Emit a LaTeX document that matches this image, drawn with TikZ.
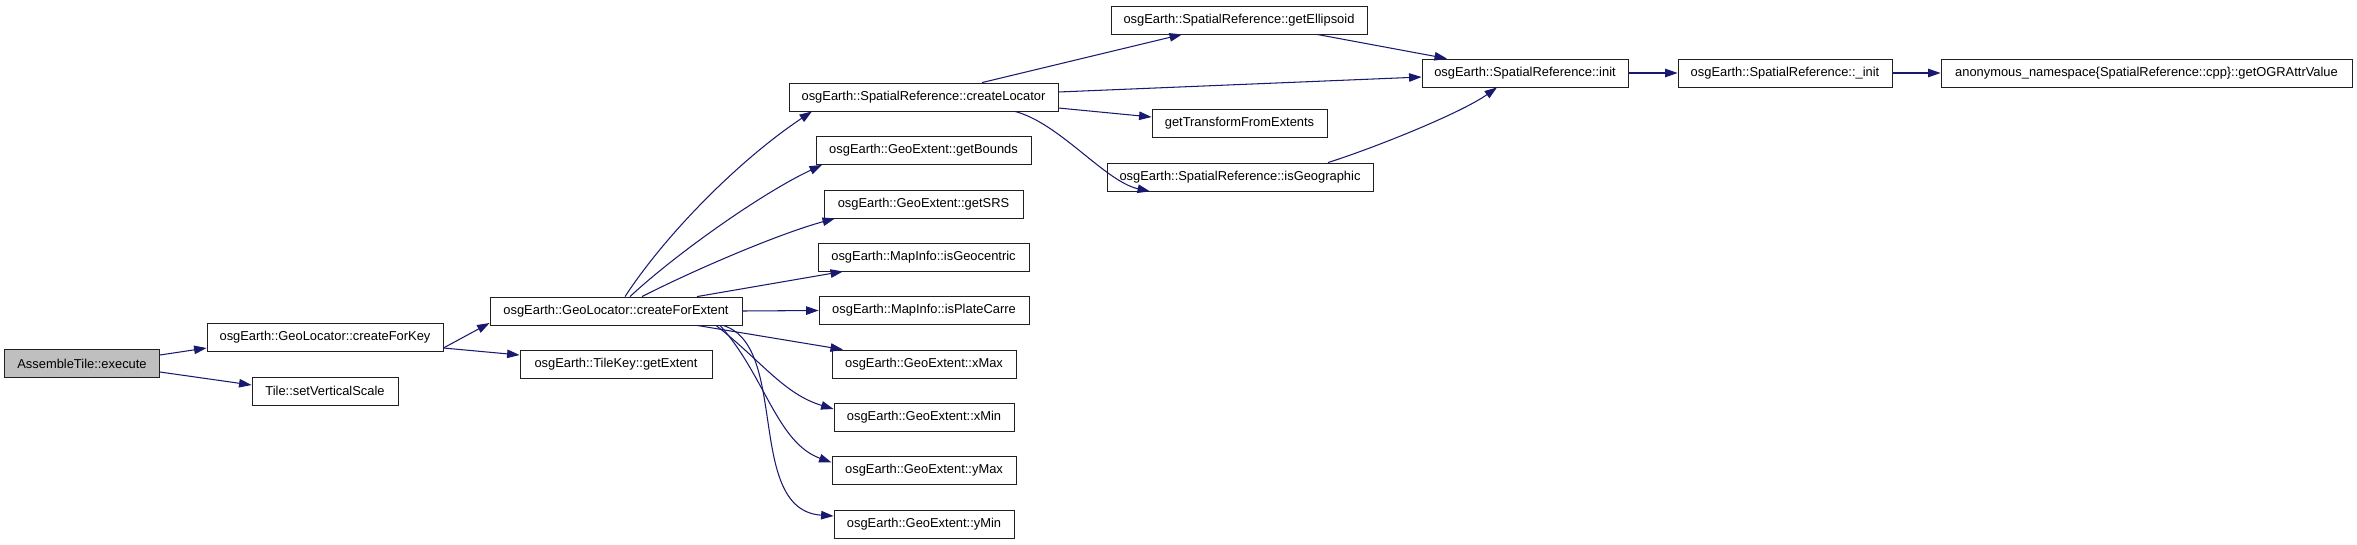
\documentclass[tikz,border=0pt]{standalone}
\usepackage{fontspec}
\setmainfont{Liberation Sans}
\usetikzlibrary{arrows.meta}
\definecolor{edgec}{HTML}{191970}
\definecolor{rootfill}{HTML}{BFBFBF}
\definecolor{boxline}{HTML}{202020}
\begin{document}
\begin{tikzpicture}[x=1pt,y=1pt,
  box/.style={draw=boxline, fill=white, line width=0.85pt, inner sep=0pt,
    minimum height=28pt, font=\fontsize{12.9}{15}\selectfont},
  rootbox/.style={box, fill=rootfill},
  call/.style={draw=edgec, line width=1.05pt,
    -{Triangle[length=12.5pt,width=8.5pt]}, fill=none}]
\fill[white] (0,0) rectangle (2357,-544);
\useasboundingbox (0,0) rectangle (2357,-544);
% nodes
\node[rootbox, minimum width=155pt] (exec) at (82,-363.5) {AssembleTile::execute};
\node[box, minimum width=236pt] (fk) at (325,-337) {osgEarth::GeoLocator::createForKey};
\node[box, minimum width=146pt] (svs) at (325,-391) {Tile::setVerticalScale};
\node[box, minimum width=252pt] (fe) at (616,-311) {osgEarth::GeoLocator::createForExtent};
\node[box, minimum width=192pt] (ge) at (616,-364) {osgEarth::TileKey::getExtent};
\node[box, minimum width=269pt] (cl) at (923.5,-97) {osgEarth::SpatialReference::createLocator};
\node[box, minimum width=215pt] (gb) at (923.5,-150.5) {osgEarth::GeoExtent::getBounds};
\node[box, minimum width=199pt] (gs) at (923.5,-204) {osgEarth::GeoExtent::getSRS};
\node[box, minimum width=211pt] (igc) at (923.5,-257) {osgEarth::MapInfo::isGeocentric};
\node[box, minimum width=210pt] (ipc) at (924,-310.5) {osgEarth::MapInfo::isPlateCarre};
\node[box, minimum width=184pt] (xmax) at (924,-364) {osgEarth::GeoExtent::xMax};
\node[box, minimum width=180pt] (xmin) at (924,-417) {osgEarth::GeoExtent::xMin};
\node[box, minimum width=184pt] (ymax) at (924,-470.5) {osgEarth::GeoExtent::yMax};
\node[box, minimum width=180pt] (ymin) at (924,-524) {osgEarth::GeoExtent::yMin};
\node[box, minimum width=256pt] (gel) at (1239,-20) {osgEarth::SpatialReference::getEllipsoid};
\node[box, minimum width=175pt] (gtf) at (1239.5,-123.5) {getTransformFromExtents};
\node[box, minimum width=266pt] (igeo) at (1240,-177) {osgEarth::SpatialReference::isGeographic};
\node[box, minimum width=206pt] (init) at (1525,-73) {osgEarth::SpatialReference::init};
\node[box, minimum width=214pt] (uinit) at (1785,-73) {osgEarth::SpatialReference::\_init};
\node[box, minimum width=411pt] (anon) at (2146.5,-73) {anonymous\_namespace\{SpatialReference::cpp\}::getOGRAttrValue};
% edges
\draw[call] ([yshift=8.5pt]exec.east) -- ([yshift=-11pt]fk.west);
\draw[call] ([yshift=-8.5pt]exec.east) -- ([yshift=6pt]svs.west);
\draw[call] ([yshift=-11pt]fk.east) -- ([yshift=-12pt]fe.west);
\draw[call] ([yshift=-11pt]fk.east) -- ([yshift=9pt]ge.west);
\draw[call] ([xshift=9pt]fe.north) .. controls +(42,64) and +(-72,-48) .. ([xshift=-111.5pt]cl.south);
\draw[call] ([xshift=14pt]fe.north) .. controls +(45,42) and +(-60,-28) .. ([xshift=-101.5pt]gb.south);
\draw[call] ([xshift=26pt]fe.north) .. controls +(55,28) and +(-55,-15) .. ([xshift=-88.5pt]gs.south);
\draw[call] ([xshift=81pt]fe.north) -- ([xshift=-80.5pt]igc.south);
\draw[call] (fe.east) -- (ipc.west);
\draw[call] ([xshift=81pt]fe.south) -- ([xshift=-81pt]xmax.north);
\draw[call] ([xshift=100pt]fe.south) .. controls +(45,-35) and +(-50,15) .. ([yshift=8pt]xmin.west);
\draw[call] ([xshift=104pt]fe.south) .. controls +(45,-50) and +(-55,20) .. ([yshift=8pt]ymax.west);
\draw[call] ([xshift=107pt]fe.south) .. controls +(67,-20) and +(-89,6) .. ([yshift=8pt]ymin.west);
\draw[call] ([xshift=58.5pt]cl.north) -- ([xshift=-57pt]gel.south);
\draw[call] ([yshift=5pt]cl.east) -- ([yshift=-4pt]init.west);
\draw[call] ([yshift=-11pt]cl.east) -- ([yshift=6.5pt]gtf.west);
\draw[call] ([xshift=91.5pt]cl.south) .. controls +(45,-12) and +(-45,10) .. ([xshift=-90pt]igeo.south);
\draw[call] ([xshift=78pt]gel.south) -- ([xshift=-78pt]init.north);
\draw[call] ([xshift=88pt]igeo.north) .. controls +(50,16) and +(-35,-25) .. ([xshift=-28pt]init.south);
\draw[call] (init.east) -- (uinit.west);
\draw[call] (uinit.east) -- (anon.west);
\end{tikzpicture}
\end{document}
